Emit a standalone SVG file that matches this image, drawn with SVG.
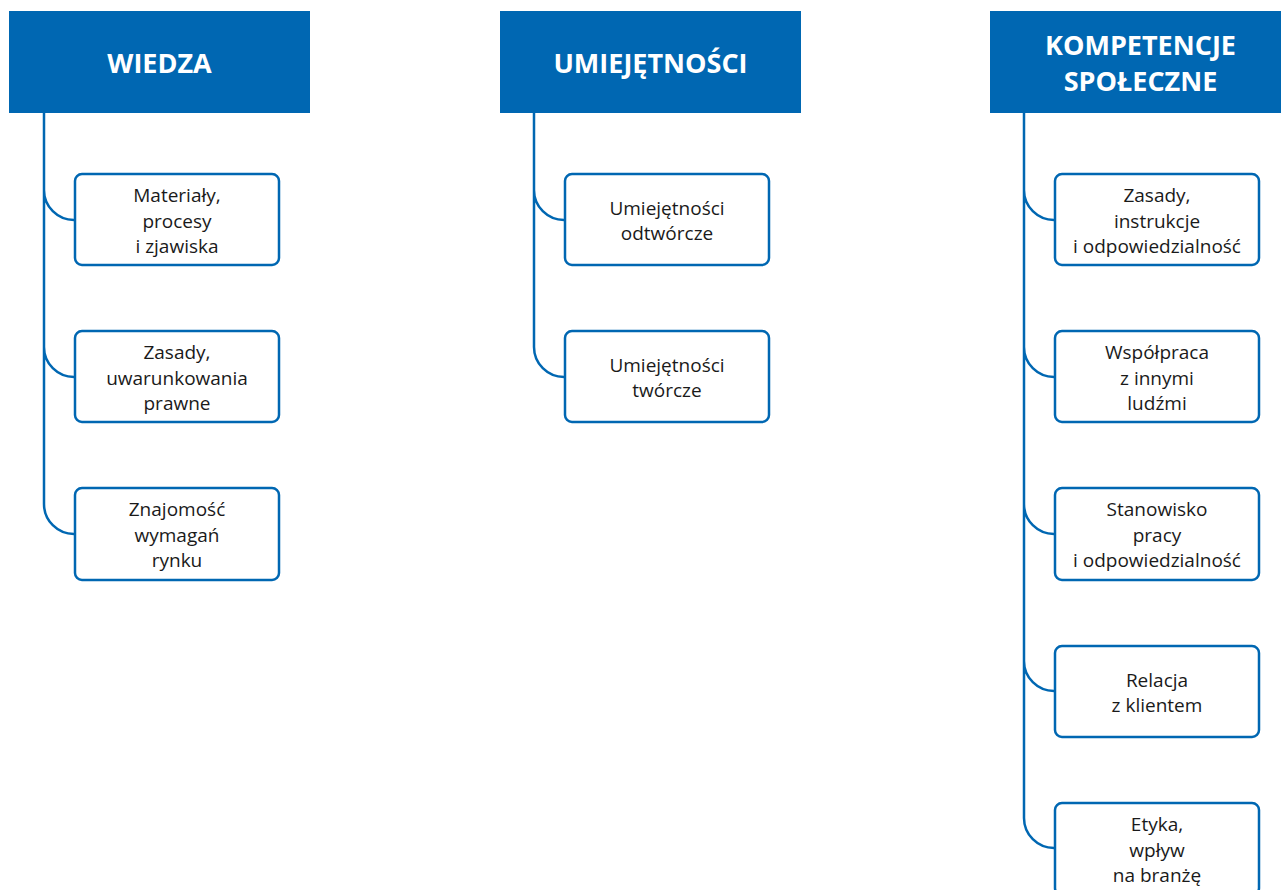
<svg xmlns="http://www.w3.org/2000/svg" width="1281" height="890" viewBox="0 0 1281 890">
<style>
.hdr{fill:#0067B2}
.ht{font-family:"Open Sans","Liberation Sans",sans-serif;font-weight:700;font-size:27px;fill:#fff;text-anchor:middle}
.box{fill:#fff;stroke:#0067B2;stroke-width:2.5}
.bt{font-family:"Open Sans","Liberation Sans",sans-serif;font-size:19px;fill:#1a1a1a;text-anchor:middle}
.con{fill:none;stroke:#0067B2;stroke-width:2.5}
</style>
<rect width="1281" height="890" fill="#fff"/>
<g id="connectors">
<path class="con" d="M44,113 V190 A30,30 0 0 0 74,220 M44,190 V347 A30,30 0 0 0 74,377 M44,347 V504 A30,30 0 0 0 74,534"/>
<path class="con" d="M534,113 V190 A30,30 0 0 0 564,220 M534,190 V347 A30,30 0 0 0 564,377"/>
<path class="con" d="M1024,113 V190 A30,30 0 0 0 1054,220 M1024,190 V347 A30,30 0 0 0 1054,377 M1024,347 V504 A30,30 0 0 0 1054,534 M1024,504 V661 A30,30 0 0 0 1054,691 M1024,661 V818 A30,30 0 0 0 1054,848"/>
</g>
<g id="h-wiedza"><rect class="hdr" x="9" y="11" width="301" height="102"/><text class="ht" x="159.5" y="73">WIEDZA</text></g>
<g id="h-umiejetnosci"><rect class="hdr" x="500" y="11" width="301" height="102"/><text class="ht" x="650.5" y="73">UMIEJĘTNOŚCI</text></g>
<g id="h-kompetencje"><rect class="hdr" x="990" y="11" width="301" height="102"/><text class="ht" x="1140.5" y="55">KOMPETENCJE</text><text class="ht" x="1140.5" y="91">SPOŁECZNE</text></g>

<g id="w1"><rect class="box" x="75" y="174" width="204" height="91" rx="7"/><text class="bt" x="177" y="202">Materiały,</text><text class="bt" x="177" y="227.5">procesy</text><text class="bt" x="177" y="253">i zjawiska</text></g>
<g id="w2"><rect class="box" x="75" y="331" width="204" height="91" rx="7"/><text class="bt" x="177" y="359">Zasady,</text><text class="bt" x="177" y="384.5">uwarunkowania</text><text class="bt" x="177" y="410">prawne</text></g>
<g id="w3"><rect class="box" x="75" y="488" width="204" height="92" rx="7"/><text class="bt" x="177" y="516">Znajomość</text><text class="bt" x="177" y="541.5">wymagań</text><text class="bt" x="177" y="567">rynku</text></g>

<g id="u1"><rect class="box" x="565" y="174" width="204" height="91" rx="7"/><text class="bt" x="667" y="215">Umiejętności</text><text class="bt" x="667" y="240">odtwórcze</text></g>
<g id="u2"><rect class="box" x="565" y="331" width="204" height="91" rx="7"/><text class="bt" x="667" y="372">Umiejętności</text><text class="bt" x="667" y="397">twórcze</text></g>

<g id="k1"><rect class="box" x="1055" y="174" width="204" height="91" rx="7"/><text class="bt" x="1157" y="202">Zasady,</text><text class="bt" x="1157" y="227.5">instrukcje</text><text class="bt" x="1157" y="253">i odpowiedzialność</text></g>
<g id="k2"><rect class="box" x="1055" y="331" width="204" height="91" rx="7"/><text class="bt" x="1157" y="359">Współpraca</text><text class="bt" x="1157" y="384.5">z innymi</text><text class="bt" x="1157" y="410">ludźmi</text></g>
<g id="k3"><rect class="box" x="1055" y="488" width="204" height="92" rx="7"/><text class="bt" x="1157" y="516">Stanowisko</text><text class="bt" x="1157" y="541.5">pracy</text><text class="bt" x="1157" y="567">i odpowiedzialność</text></g>
<g id="k4"><rect class="box" x="1055" y="646" width="204" height="91" rx="7"/><text class="bt" x="1157" y="687">Relacja</text><text class="bt" x="1157" y="712">z klientem</text></g>
<g id="k5"><rect class="box" x="1055" y="803" width="204" height="92" rx="7"/><text class="bt" x="1157" y="831">Etyka,</text><text class="bt" x="1157" y="856.5">wpływ</text><text class="bt" x="1157" y="882">na branżę</text></g>
</svg>
